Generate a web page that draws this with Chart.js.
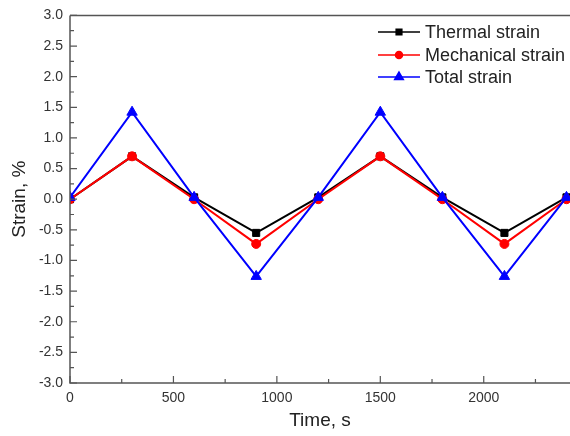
<!DOCTYPE html>
<html>
<head>
<meta charset="utf-8">
<script src="https://cdn.jsdelivr.net/npm/chart.js@4/dist/chart.umd.min.js"></script>
<style>
  html, body { margin: 0; padding: 0; background: #fff; }
  #wrap { width: 570px; height: 436px; }
</style>
</head>
<body>
<div id="wrap"><canvas id="grafico"></canvas></div>
<script>
// datos
const tiempos = [0, 300, 600, 900, 1200, 1500, 1800, 2100, 2400];
const termica = [0.0, 0.70, 0.03, -0.55, 0.03, 0.70, 0.03, -0.55, 0.03];
const mecanica = [0.0, 0.70, 0.0, -0.73, 0.0, 0.70, 0.0, -0.73, 0.0];
const total = [0.03, 1.42, 0.03, -1.26, 0.03, 1.42, 0.03, -1.26, 0.03];
const nombres = ['Thermal strain', 'Mechanical strain', 'Total strain'];
const ticksX = [0, 500, 1000, 1500, 2000];
const ticksY = [-3.0, -2.5, -2.0, -1.5, -1.0, -0.5, 0.0, 0.5, 1.0, 1.5, 2.0, 2.5, 3.0];

const FUENTE = '"Liberation Sans", Arial, sans-serif';
const GRIS = '#555';

function puntos(valores) {
    return tiempos.map((t, i) => ({ x: t, y: valores[i] }));
}

// ticks hacia dentro, marco superior y leyenda con linea + marcador
const extras = {
    id: 'extras',
    afterDraw(chart) {
        const ctx = chart.ctx;
        const a = chart.chartArea;
        const sx = chart.scales.x, sy = chart.scales.y;
        ctx.save();
        ctx.strokeStyle = GRIS;
        ctx.lineWidth = 1.5;
        ctx.beginPath();
        ctx.moveTo(a.left, a.top); ctx.lineTo(a.right, a.top);
        ctx.moveTo(a.left, a.top); ctx.lineTo(a.left, a.bottom);
        ctx.lineTo(a.right, a.bottom);
        ctx.stroke();

        ctx.lineWidth = 1.2;
        ctx.beginPath();
        for (let v = 0; v <= sx.max; v += 250) {
            const px = sx.getPixelForValue(v);
            const largo = v % 500 === 0 ? 7 : 4;
            ctx.moveTo(px, a.bottom); ctx.lineTo(px, a.bottom - largo);
        }
        for (let i = 0; i <= 24; i++) {
            const v = -3 + i * 0.25;
            const py = sy.getPixelForValue(v);
            const largo = i % 2 === 0 ? 7 : 4;
            ctx.moveTo(a.left, py); ctx.lineTo(a.left + largo, py);
        }
        ctx.stroke();

        // leyenda
        const x0 = 378, filas = [32, 55, 77];
        ctx.font = '18px ' + FUENTE;
        ctx.textBaseline = 'middle';
        chart.data.datasets.forEach((ds, i) => {
            const y = filas[i];
            ctx.strokeStyle = ds.borderColor;
            ctx.lineWidth = 1.5;
            ctx.beginPath();
            ctx.moveTo(x0, y); ctx.lineTo(x0 + 42, y);
            ctx.stroke();
            ctx.fillStyle = ds.backgroundColor;
            Chart.helpers.drawPoint(ctx, {
                pointStyle: ds.pointStyle,
                radius: ds.pointRadius - 1,
                borderWidth: 1
            }, x0 + 21, y);
            ctx.fillStyle = '#222';
            ctx.fillText(nombres[i], x0 + 47, y + 1);
        });
        ctx.restore();
    }
};

function crearGrafico() {
    const ctx = document.getElementById('grafico');
    new Chart(ctx, {
        type: 'line',
        data: {
            datasets: [
                { label: nombres[0], data: puntos(termica), borderColor: '#000', backgroundColor: '#000',
                  pointStyle: 'rect', pointRadius: 5, order: 3 },
                { label: nombres[1], data: puntos(mecanica), borderColor: '#f00', backgroundColor: '#f00',
                  pointStyle: 'circle', pointRadius: 4.5, order: 2 },
                { label: nombres[2], data: puntos(total), borderColor: '#00f', backgroundColor: '#00f',
                  pointStyle: 'triangle', pointRadius: 6, order: 1 }
            ]
        },
        options: {
            responsive: false,
            animation: false,
            layout: { autoPadding: false, padding: { top: 14, right: 0, left: 0, bottom: 0 } },
            elements: {
                line: { borderWidth: 2, tension: 0 },
                point: { borderWidth: 1, hoverRadius: 5 }
            },
            plugins: { legend: { display: false }, tooltip: { enabled: false } },
            scales: {
                x: {
                    type: 'linear',
                    min: 0,
                    max: 2417,
                    afterBuildTicks: s => { s.ticks = ticksX.map(v => ({ value: v })); },
                    afterFit: s => { s.height = 53; s.paddingRight = 0; s.paddingLeft = 0; },
                    grid: { display: false, drawTicks: false },
                    border: { display: false },
                    ticks: { color: '#333', font: { family: FUENTE, size: 14 }, padding: 7, maxRotation: 0,
                             callback: v => String(v) },
                    title: { display: true, text: 'Time, s', color: '#222', font: { family: FUENTE, size: 19 }, padding: { top: 4 } }
                },
                y: {
                    min: -3,
                    max: 3,
                    afterBuildTicks: s => { s.ticks = ticksY.map(v => ({ value: v })); },
                    afterFit: s => { s.width = 70; },
                    grid: { display: false, drawTicks: false },
                    border: { display: false },
                    ticks: { color: '#333', font: { family: FUENTE, size: 14 }, padding: 7,
                             callback: v => v.toFixed(1) },
                    title: { display: true, text: 'Strain, %', color: '#222', font: { family: FUENTE, size: 19 }, padding: { top: 8, bottom: 4 } }
                }
            }
        },
        plugins: [extras]
    });
}

const lienzo = document.getElementById('grafico');
lienzo.width = 570;
lienzo.height = 436;
crearGrafico();
</script>
</body>
</html>
